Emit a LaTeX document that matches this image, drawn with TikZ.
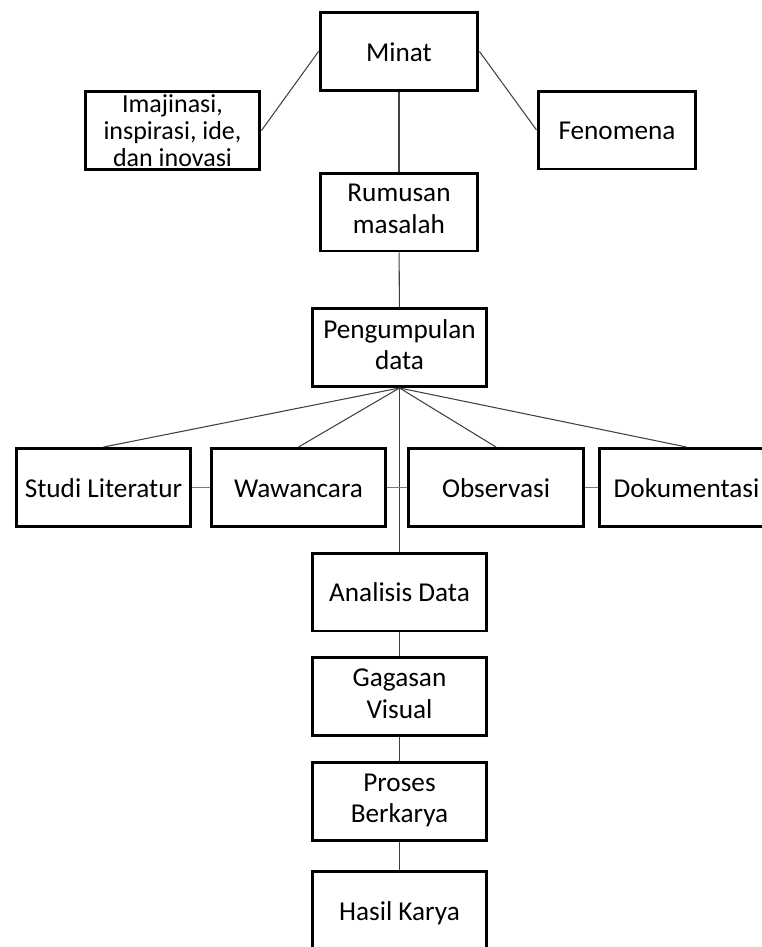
\documentclass[tikz,border=0pt]{standalone}
\usepackage{fontspec}
\setmainfont{Carlito}
\usepackage{tikz}
\usetikzlibrary{positioning}
\definecolor{sidelink}{RGB}{79,129,189}
\newcommand{\topline}{\rule{0pt}{14.5pt}}
\newcommand{\botline}{\rule[-3.5pt]{0pt}{3.5pt}}

\begin{document}
\begin{tikzpicture}[x=0.02cm,y=-0.02cm,
    frame/.style={draw,line width=1.7pt,minimum width=3.5cm,minimum height=1.56cm,
        align=center,inner sep=2pt,font=\fontsize{15.5}{18}\selectfont},
    box/.style={frame,execute at begin node=\topline,execute at end node=\botline},
    narrow/.style={minimum width=3.16cm},
    link/.style={draw=black!75,line width=0.6pt},
    side/.style={draw=sidelink,line width=0.6pt}]

\useasboundingbox (0,0) rectangle (761,947);

% top part
\node[box,narrow] (minat) at (399,51.5) {Minat};
\node[frame,inner sep=0pt,font=\fontsize{14.8}{15.3}\selectfont,
    execute at begin node=\rule{0pt}{13pt}] (imajinasi) at (172.5,130.5) {Imajinasi,\\inspirasi, ide,\\dan inovasi};
\node[box,narrow] (fenomena) at (617,130) {Fenomena};
\node[box,narrow] (rumusan) at (399,212) {Rumusan\\masalah};
\node[box] (pengumpulan) at (399.5,347.5) {Pengumpulan\\data};

% row of methods
\foreach \n/\t/\x in {studi/Studi Literatur/103.5, wawancara/Wawancara/298.5,
    observasi/Observasi/496, dokumentasi/Dokumentasi/686.5}
    \node[box] (\n) at (\x,487.5) {\t};

% chain below
\foreach \n/\t/\y in {analisis/Analisis Data/592, gagasan/Gagasan\\Visual/696.5,
    proses/Proses\\Berkarya/801.5, hasil/Hasil Karya/910.5}
    \node[box] (\n) at (399.5,\y) {\t};

\draw[link] (minat.west) -- (imajinasi.east);
\draw[link] (minat.east) -- (fenomena.west);
\draw[link] (minat) -- (rumusan);
\draw[link] (rumusan) -- (pengumpulan);

\foreach \n in {studi,wawancara,observasi,dokumentasi}
    \draw[link] (pengumpulan.south) -- (\n.north);
\draw[link] (pengumpulan.south) -- (analisis.north);

\draw[side] (studi) -- (wawancara);
\draw[side] (wawancara) -- (observasi);
\draw[side] (observasi) -- (dokumentasi);

\draw[link] (analisis) -- (gagasan);
\draw[link] (gagasan) -- (proses);
\draw[link] (proses) -- (hasil);

\end{tikzpicture}
\end{document}
